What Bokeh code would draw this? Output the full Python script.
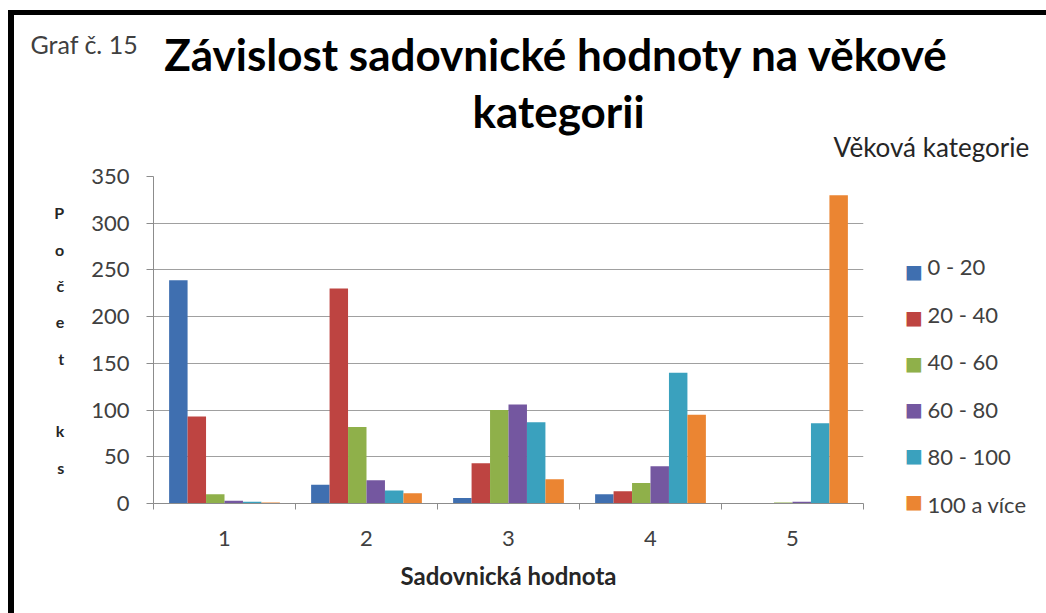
from bokeh.plotting import figure
from bokeh.models import ColumnDataSource, FixedTicker, Label
from bokeh.embed import file_html
from bokeh.resources import INLINE

# --- data -------------------------------------------------------------
categories = [1, 2, 3, 4, 5]                     # Sadovnická hodnota
age_groups = ["0 - 20", "20 - 40", "40 - 60", "60 - 80", "80 - 100", "100 a více"]
count_0_20 = [239, 20, 6, 10, 0]
count_20_40 = [93, 230, 43, 13, 0]
count_40_60 = [10, 82, 100, 22, 1]
count_60_80 = [3, 25, 106, 40, 2]
count_80_100 = [2, 14, 87, 140, 86]
count_100_plus = [1, 11, 26, 95, 330]
y_ticks = [0, 50, 100, 150, 200, 250, 300, 350]

series = [count_0_20, count_20_40, count_40_60, count_60_80, count_80_100, count_100_plus]
colors = ["#3F6FB0", "#BE4441", "#8FB04A", "#7457A0", "#3AA1BE", "#EB8532"]

FONT = "Lato"
W, H = 1046, 613
L, T, R, B = 153, 176, 863, 503   # frame edges on the canvas

p = figure(width=W, height=H, x_range=(0.5, 5.5), y_range=(0, 350),
           output_backend="svg", toolbar_location=None,
           min_border_left=L, min_border_right=W - R,
           min_border_top=T, min_border_bottom=H - B)
p.background_fill_color = "white"
p.border_fill_color = None
# heavy black frame line along the top and left edge of the chart area
p.styles = {"box-shadow": "inset 8px 10px 0 0 white, inset 14px 15px 0 0 black"}
p.outline_line_color = None

# grouped bars, one renderer per age group
bar_w = 0.13
for i, (name, vals, col) in enumerate(zip(age_groups, series, colors)):
    off = (i - 2.5) * bar_w
    src = ColumnDataSource(dict(x=[c + off for c in categories], top=vals))
    p.vbar(x="x", top="top", width=bar_w, bottom=0, source=src,
           fill_color=col, line_color=None)

# x axis: labels at the categories, tick marks between them
p.xaxis.ticker = FixedTicker(ticks=categories,
                             minor_ticks=[c - 0.5 for c in categories] + [5.5])
p.xaxis.major_tick_out = 0
p.xaxis.major_tick_in = 0
p.xaxis.minor_tick_out = 6
p.xaxis.minor_tick_in = 0
p.xaxis.axis_line_color = "#8c8c8c"
p.xaxis.minor_tick_line_color = "#8c8c8c"
p.xaxis.major_label_text_font = FONT
p.xaxis.major_label_text_font_size = "22px"
p.xaxis.major_label_text_color = "#404040"
p.xaxis.major_label_standoff = 21
p.xaxis.axis_label = "Sadovnická hodnota"
p.xaxis.axis_label_text_font = FONT
p.xaxis.axis_label_text_font_size = "24px"
p.xaxis.axis_label_text_font_style = "bold"
p.xaxis.axis_label_text_color = "#262626"
p.xaxis.axis_label_standoff = 12

# y axis, its title written letter by letter
p.yaxis.ticker = FixedTicker(ticks=y_ticks)
p.yaxis.major_tick_out = 7
p.yaxis.major_tick_in = 0
p.yaxis.minor_tick_line_color = None
p.yaxis.axis_line_color = "#8c8c8c"
p.yaxis.major_tick_line_color = "#8c8c8c"
p.yaxis.major_label_text_font = FONT
p.yaxis.major_label_text_font_size = "22px"
p.yaxis.major_label_text_color = "#404040"
p.yaxis.major_label_standoff = 17
p.yaxis.axis_label = "P\no\nč\ne\nt\n\nk\ns"
p.yaxis.axis_label_orientation = "horizontal"
p.yaxis.axis_label_text_font = FONT
p.yaxis.axis_label_text_font_size = "16px"
p.yaxis.axis_label_text_font_style = "bold"
p.yaxis.axis_label_text_color = "#262626"
p.yaxis.axis_label_text_line_height = 1.91
p.yaxis.axis_label_text_align = "center"
p.yaxis.axis_label_standoff = 24

p.xgrid.grid_line_color = None
p.ygrid.ticker = FixedTicker(ticks=y_ticks)
p.ygrid.grid_line_color = "#a0a0a0"
p.ygrid.grid_line_width = 1


def txt(text, x, y, size, bold=False, color="#000000", align="left",
        baseline="alphabetic", font=FONT, panel="above", line_height=1.2):
    # for alphabetic text y is the wanted baseline; nudge up for how the label anchors it
    px = float(size.rstrip("px"))
    dy = 0.33 * px if baseline == "alphabetic" else 0.0
    p.add_layout(Label(x=x, y=y - dy, x_units="canvas", y_units="canvas",
                       text=text, text_font=font, text_font_size=size,
                       text_font_style="bold" if bold else "normal",
                       text_color=color, text_align=align,
                       text_baseline=baseline, text_line_height=line_height), panel)


# headings
txt("Graf č. 15", 30, 52, "25px", color="#404040")
txt("Závislost sadovnické hodnoty na věkové", 556, 68, "44px", bold=True, align="center")
txt("kategorii", 558, 125, "44px", bold=True, align="center")
txt("Věková kategorie", 833, 155, "26px", color="#262626")

# legend: one colour swatch per age group, names as one block beside them
ROW0, ROW_STEP = 270, 46
for i, col in enumerate(colors):
    txt("■", 913.5, ROW0 + i * ROW_STEP, "19px", color=col, align="center",
        baseline="middle", font="DejaVu Sans", panel="right" if i < 4 else "left")
txt("\n".join(age_groups), 927, ROW0 + 2.5 * ROW_STEP, "22px", color="#404040",
    baseline="middle", panel="right", line_height=1.757)

open("out.html", "w").write(file_html(p, INLINE))
